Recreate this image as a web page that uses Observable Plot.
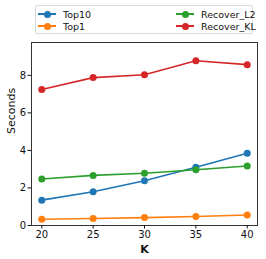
<!DOCTYPE html>
<html>
<head>
<meta charset="utf-8">
<script src="https://cdn.jsdelivr.net/npm/d3@7"></script>
<script src="https://cdn.jsdelivr.net/npm/@observablehq/plot@0.6"></script>
<style>
  html, body { margin: 0; padding: 0; background: #fff; }
  #wrap { position: relative; width: 266px; height: 259px; font-family: "DejaVu Sans", sans-serif; }
  #legend { position: absolute; left: 35px; top: 5px; width: 216px; height: 27px; border: 1px solid #d9d9d9; border-radius: 2px; background: #fff; font-size: 9.5px; color: #111; }
  .item { position: absolute; display: flex; align-items: center; height: 12px; }
  .sw { position: relative; width: 18px; height: 12px; margin-right: 7px; }
  .sw .ln { position: absolute; left: 0; top: 5px; width: 18px; height: 1.6px; }
  .sw .dt { position: absolute; left: 5.5px; top: 2.5px; width: 7px; height: 7px; border-radius: 50%; }
</style>
</head>
<body>
<div id="wrap"><div id="chart"></div><div id="legend"></div></div>
<script>
const ks = [20, 25, 30, 35, 40];
const seriesNames = ["Top10", "Top1", "Recover_L2", "Recover_KL"];
const colors = ["#1f77b4", "#ff7f0e", "#2ca02c", "#d62728"];
const top10 = [1.35, 1.8, 2.38, 3.1, 3.85];
const top1 = [0.33, 0.37, 0.42, 0.48, 0.56];
const recoverL2 = [2.48, 2.67, 2.78, 2.97, 3.17];
const recoverKL = [7.25, 7.88, 8.03, 8.78, 8.57];
const yTicks = [0, 2, 4, 6, 8];

const allValues = [top10, top1, recoverL2, recoverKL];
const marks = [];
allValues.forEach((vals, i) => {
  const data = ks.map((k, j) => ({k, v: vals[j]}));
  marks.push(Plot.line(data, {x: "k", y: "v", stroke: colors[i], strokeWidth: 1.6}));
  marks.push(Plot.dot(data, {x: "k", y: "v", fill: colors[i], r: 3.5}));
});

const chart = Plot.plot({
  width: 266,
  height: 259,
  marginLeft: 31,
  marginRight: 9,
  marginTop: 42,
  marginBottom: 34,
  style: {fontFamily: "DejaVu Sans, sans-serif", fontSize: "10px", color: "#111", background: "#fff"},
  x: {domain: [19, 41], ticks: ks, tickSize: 3.5, tickPadding: 2, label: null},
  y: {domain: [0, 9.75], ticks: yTicks, tickSize: 3.5, tickPadding: 2, label: null},
  marks: [
    ...marks,
    Plot.frame({stroke: "#333", strokeWidth: 1}),
    Plot.axisX({ticks: ks, tickSize: 3.5, tickPadding: 2, label: null, fontSize: 10}),
    Plot.axisY({ticks: yTicks, tickSize: 3.5, tickPadding: 2, label: null, fontSize: 10}),
    Plot.text(["K"], {frameAnchor: "bottom", dy: 27, fontWeight: "bold", fontSize: 11}),
    Plot.text(["Seconds"], {frameAnchor: "left", dx: -20, rotate: -90, fontSize: 11})
  ]
});
document.getElementById("chart").appendChild(chart);

const legend = document.getElementById("legend");
const pos = [[2, 2], [2, 14], [140, 2], [140, 14]];
seriesNames.forEach((name, i) => {
  const it = document.createElement("div");
  it.className = "item";
  it.style.left = pos[i][0] + "px";
  it.style.top = pos[i][1] + "px";
  it.innerHTML = `<div class="sw"><div class="ln" style="background:${colors[i]}"></div><div class="dt" style="background:${colors[i]}"></div></div><span>${name}</span>`;
  legend.appendChild(it);
});
</script>
</body>
</html>
